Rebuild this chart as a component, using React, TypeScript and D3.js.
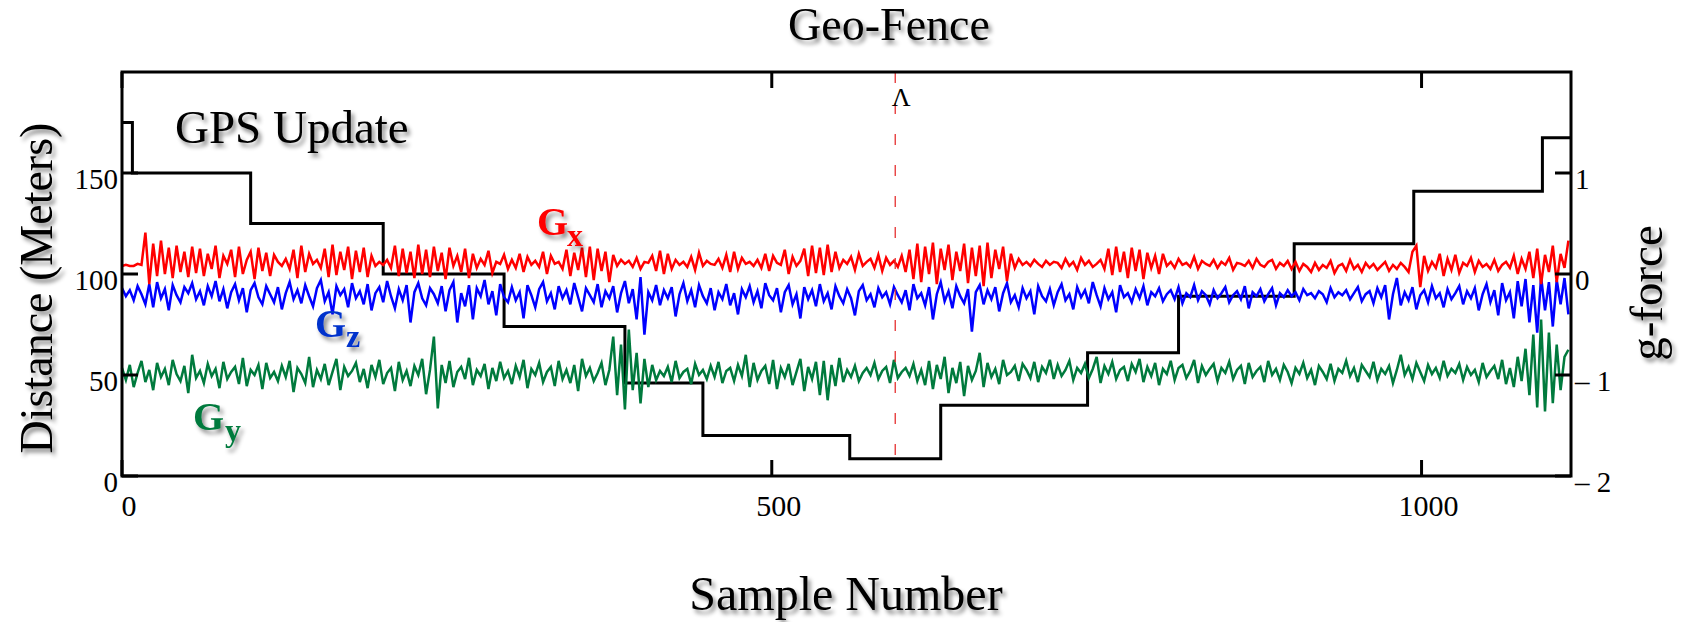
import * as d3 from "d3";

const SAMPLE_STEP = 3;
const sampleMax = 1115;
const geoFenceSample = 595;

// GPS distance (meters), step changes at these sample numbers
const gpsSamples = [0, 8, 99, 201, 294, 387, 447, 560, 630, 743, 813, 902, 994, 1093, 1115];
const gpsDistance = [175, 150, 125, 100, 74, 46, 20, 8.5, 35, 61, 89, 115, 141, 167.5, 167.5];

// g-force traces (right axis)
const gx = [
  .08, .09, .08, .08, .10, .09, .41, -.10, .30, -.02, .33, .00, .26, -.04, .28, .02, .22, -.03, .27, .01,
  .25, -.02, .20, .05, .28, -.04, .18, .10, .24, -.03, .27, .00, .14, .22, -.05, .26, .03, .21, -.02, .19,
  .12, .08, .15, .05, .24, -.04, .28, .02, .20, .10, .14, .06, .25, -.03, .29, -.01, .22, .04, .27, -.05,
  .23, .02, .26, -.03, .18, .08, .12, .09, .14, .06, .28, -.02, .25, .01, .22, -.04, .29, .00, .24, -.03,
  .27, .03, .21, -.05, .26, .08, .18, .02, .25, -.04, .20, .06, .15, .09, .23, .01, .12, .10, .19, .05,
  .14, .06, .20, .02, .17, .09, .13, .07, .22, .00, .18, .10, .12, .05, .24, -.02, .21, .04, .26, -.03,
  .27, -.06, .25, .03, .22, -.08, .19, .08, .14, .10, .13, .07, .16, .05, .12, .11, .18, .03, .23, .00,
  .20, .05, .14, .09, .12, .07, .17, .04, .21, .08, .13, .10, .09, .15, .06, .19, .02, .22, .05, .16,
  .10, .12, .08, .14, .06, .20, .03, .18, .11, .09, .24, .00, .17, .08, .13, .25, -.02, .28, .01, .26,
  -.01, .29, .02, .22, .06, .14, .10, .17, .04, .20, .08, .12, .15, .06, .19, .03, .16, .09, .13, .07,
  .18, .02, .24, -.05, .30, -.08, .27, .00, .31, -.10, .25, .04, .29, -.06, .22, .03, .30, -.09, .26, -.02,
  .28, -.12, .31, -.04, .24, .05, .27, -.07, .20, .06, .15, .09, .12, .08, .14, .10, .07, .13, .09, .12,
  .11, .06, .15, .08, .12, .04, .16, .09, .13, .07, .10, .14, .05, .25, -.01, .27, .02, .22, -.04, .26,
  .03, .24, -.05, .21, .06, .18, .00, .20, .08, .12, .06, .15, .09, .11, .07, .17, .05, .13, .10, .08,
  .14, .06, .12, .09, .16, .04, .11, .10, .08, .13, .06, .15, .09, .07, .12, .14, .05, .11, .08, .13,
  .05, .12, .03, .10, .07, .02, .11, .04, .09, .06, .13, .01, .08, .10, .03, .14, .05, .09, .02, .11,
  .06, .10, .04, .08, .12, .03, .09, .05, .11, .07, .02, .22, .28, -.13, .18, .03, .12, .06, .20, -.02,
  .15, .04, .19, .01, .11, .08, .16, .02, .13, .07, .10, .05, .14, .03, .09, .12, .06, .18, .00, .15,
  .05, .22, -.04, .25, -.10, .19, .02, .28, -.08, .20, .06, .33,
];

const gz = [
  -.14, -.22, -.16, -.26, -.12, -.20, -.30, -.10, -.33, -.08, -.24, -.15, -.36, -.11, -.21, -.28, -.13, -.19, -.09, -.25,
  -.17, -.31, -.12, -.22, -.07, -.27, -.15, -.34, -.18, -.10, -.26, -.14, -.38, -.16, -.09, -.23, -.30, -.12, -.20, -.28,
  -.13, -.35, -.19, -.08, -.25, -.16, -.29, -.11, -.22, -.32, -.14, -.06, -.27, -.18, -.40, -.12, -.21, -.15, -.33, -.09,
  -.24, -.17, -.30, -.10, -.36, -.19, -.13, -.28, -.07, -.22, -.34, -.15, -.26, -.11, -.48, -.18, -.09, -.24, -.31, -.14,
  -.20, -.29, -.12, -.37, -.16, -.08, -.48, -.19, -.32, -.11, -.45, -.14, -.22, -.06, -.30, -.17, -.41, -.10, -.23, -.28,
  -.13, -.26, -.18, -.44, -.11, -.21, -.33, -.15, -.08, -.27, -.19, -.35, -.12, -.24, -.16, -.30, -.09, -.23, -.37, -.14,
  -.21, -.28, -.10, -.33, -.17, -.24, -.12, -.38, -.19, -.07, -.29, -.15, -.45, -.03, -.60, -.18, -.26, -.11, -.31, -.16,
  -.24, -.13, -.42, -.20, -.09, -.27, -.16, -.33, -.11, -.22, -.29, -.14, -.36, -.18, -.25, -.10, -.31, -.19, -.40, -.15,
  -.23, -.12, -.28, -.17, -.34, -.09, -.21, -.26, -.14, -.38, -.18, -.11, -.30, -.20, -.44, -.13, -.25, -.16, -.32, -.10,
  -.27, -.19, -.35, -.12, -.22, -.29, -.15, -.24, -.41, -.17, -.11, -.26, -.20, -.33, -.14, -.23, -.18, -.30, -.13, -.21,
  -.28, -.16, -.36, -.10, -.24, -.19, -.31, -.13, -.45, -.20, -.08, -.27, -.17, -.34, -.12, -.22, -.29, -.15, -.57, -.18,
  -.11, -.30, -.16, -.25, -.13, -.37, -.19, -.09, -.28, -.21, -.33, -.14, -.24, -.17, -.40, -.12, -.22, -.27, -.15, -.31,
  -.18, -.10, -.26, -.20, -.35, -.13, -.23, -.16, -.29, -.08, -.21, -.32, -.14, -.25, -.18, -.38, -.11, -.23, -.19, -.28,
  -.15, -.24, -.12, -.31, -.18, -.22, -.14, -.27, -.20, -.16, -.25, -.13, -.29, -.19, -.23, -.11, -.26, -.17, -.21, -.30,
  -.16, -.24, -.19, -.13, -.28, -.21, -.17, -.25, -.12, -.34, -.18, -.22, -.15, -.27, -.20, -.14, -.31, -.19, -.23, -.16,
  -.22, -.18, -.26, -.15, -.21, -.19, -.24, -.17, -.20, -.28, -.14, -.23, -.18, -.21, -.16, -.25, -.19, -.13, -.27, -.20,
  -.17, -.29, -.14, -.23, -.11, -.45, -.20, -.04, -.31, -.18, -.26, -.13, -.35, -.21, -.16, -.28, -.12, -.24, -.19, -.33,
  -.15, -.25, -.19, -.12, -.30, -.17, -.24, -.14, -.36, -.20, -.10, -.28, -.16, -.41, -.09, -.26, -.18, -.44, -.07, -.32,
  -.05, -.48, -.11, -.58, -.03, -.36, -.08, -.52, -.06, -.30, -.04, -.40,
];

const gy = [
  -.93, -1.05, -.90, -1.12, -.98, -.86, -1.07, -.95, -1.15, -.88, -1.02, -.94, -1.10, -.85, -.99, -1.06, -.91, -1.18, -.80, -1.03,
  -.96, -1.08, -.89, -1.01, -.94, -1.13, -.87, -1.04, -.97, -.92, -1.09, -.83, -1.11, -.95, -1.00, -.90, -1.14, -.88, -1.03, -.97,
  -1.06, -.91, -1.02, -.86, -1.17, -.93, -.99, -1.08, -.82, -1.12, -.95, -1.04, -.89, -1.10, -.97, -.84, -1.15, -.92, -1.01, -.96,
  -.88, -1.07, -.94, -1.13, -.90, -1.02, -.85, -1.09, -.98, -.93, -1.16, -.87, -1.05, -.96, -1.11, -.91, -1.00, -.84, -1.19, -.95,
  -.62, -1.33, -.90, -1.08, -.86, -1.12, -.97, -.92, -1.04, -.83, -1.10, -.95, -1.01, -.89, -1.14, -.93, -1.06, -.87, -1.03, -.96,
  -1.09, -.91, -1.02, -.85, -1.13, -.94, -1.00, -.88, -1.07, -.97, -.92, -1.11, -.86, -1.04, -.95, -1.08, -.90, -1.16, -.84, -1.01,
  -.93, -1.06, -.98, -.88, -1.10, -.95, -.62, -1.20, -.70, -1.34, -.55, -1.15, -.78, -1.28, -.84, -1.12, -.90, -1.05, -.96, -1.01,
  -.92, -1.07, -.86, -1.03, -.97, -.94, -1.09, -.89, -1.00, -.95, -1.04, -.91, -1.02, -.87, -1.08, -.96, -.93, -1.06, -.90, -1.01,
  -.80, -1.12, -.88, -1.05, -.96, -.91, -1.09, -.85, -1.14, -.93, -1.02, -.89, -1.10, -.97, -.84, -1.16, -.92, -1.04, -.87, -1.20,
  -.86, -1.25, -.90, -1.11, -.83, -1.07, -.95, -1.02, -.91, -1.06, -.98, -.93, -1.00, -.88, -1.04, -.96, -.92, -1.08, -.85, -1.03,
  -.97, -.93, -1.01, -.89, -1.06, -.95, -1.10, -.86, -1.14, -.90, -1.04, -.82, -1.18, -.93, -1.08, -.87, -1.21, -.91, -1.05, -.96,
  -.78, -1.12, -.88, -1.02, -.94, -1.09, -.85, -1.00, -.97, -.91, -1.06, -.89, -.95, -1.03, -.87, -1.07, -.92, -.98, -.85, -1.04,
  -.90, -1.01, -.95, -.86, -1.05, -.93, -.98, -.89, -1.03, -.94, -.82, -1.08, -.91, -.99, -.87, -1.04, -.95, -.92, -1.06, -.89,
  -.97, -.84, -1.07, -.92, -1.01, -.88, -1.10, -.94, -.99, -.86, -1.05, -.93, -.90, -1.03, -.96, -.85, -1.08, -.91, -1.00, -.94,
  -.89, -1.06, -.93, -.98, -.87, -1.04, -.95, -.91, -1.09, -.88, -1.02, -.96, -.92, -1.07, -.86, -1.00, -.94, -1.05, -.90, -.97,
  -1.08, -.93, -.99, -.88, -1.03, -.95, -1.10, -.91, -.97, -1.04, -.89, -1.06, -.94, -.98, -.86, -1.01, -.93, -1.07, -.90, -.96,
  -1.02, -.87, -1.05, -.94, -.99, -.91, -1.08, -.95, -.80, -1.00, -.92, -1.04, -.88, -.97, -1.06, -.90, -.99, -.93, -1.03, -.86,
  -1.01, -.94, -.98, -.89, -1.05, -.92, -1.00, -.95, -1.07, -.88, -1.02, -.96, -.91, -1.04, -.85, -1.09, -.93, -1.12, -.82, -1.06,
  -.74, -1.20, -.60, -1.32, -.45, -1.36, -.58, -1.28, -.70, -1.15, -.82, -.75,
];

const sampleTicks = [0, 500, 1000];
const distanceTicks = [0, 50, 100, 150];
const gTicks = [-2, -1, 0, 1];
const gTickLabels = ["\u2013 2", "\u2013 1", "0", "1"];

const FONT = '"Liberation Serif", Tinos, "Times New Roman", Times, serif';

export default function App() {
  const width = 1681;
  const height = 622;
  const left = 122, right = 1571, top = 72, bottom = 476;
  const tickLen = 16;

  const x = d3.scaleLinear().domain([0, sampleMax]).range([left, right]);
  const yDist = d3.scaleLinear().domain([0, 200]).range([bottom, top]);
  const yG = d3.scaleLinear().domain([-2, 2]).range([bottom, top]);

  const gpsLine = d3
    .line<number>()
    .x((_, i) => x(gpsSamples[i]))
    .y((d) => yDist(d))
    .curve(d3.curveStepAfter);

  const gLine = d3
    .line<number>()
    .x((_, i) => x(i * SAMPLE_STEP))
    .y((d) => yG(d));

  const fx = x(geoFenceSample);

  return (
    <svg
      width={width}
      height={height}
      style={{ position: "absolute", left: 0, top: 0, background: "#fff", fontFamily: FONT }}
    >
      <defs>
        <filter id="shadow" x="-10%" y="-20%" width="130%" height="160%">
          <feDropShadow dx="3" dy="4" stdDeviation="2.2" floodColor="#000" floodOpacity="0.45" />
        </filter>
      </defs>

      {/* GPS distance steps */}
      <path d={gpsLine(gpsDistance) ?? ""} fill="none" stroke="#000" strokeWidth={3} />

      {/* accelerometer traces */}
      <path d={gLine(gy) ?? ""} fill="none" stroke="#007a3d" strokeWidth={2.5} />
      <path d={gLine(gz) ?? ""} fill="none" stroke="#0000ff" strokeWidth={2.5} />
      <path d={gLine(gx) ?? ""} fill="none" stroke="#ff0000" strokeWidth={2.5} />

      {/* geo-fence marker */}
      <line x1={fx} x2={fx} y1={top} y2={bottom} stroke="#e53030" strokeWidth={1.3} strokeDasharray="11 20" />
      <text x={fx + 6} y={106} fontSize={26} textAnchor="middle" fill="#000">Λ</text>

      {/* frame */}
      <rect x={left} y={top} width={right - left} height={bottom - top} fill="none" stroke="#000" strokeWidth={3} />

      {/* bottom / top ticks */}
      {sampleTicks.map((t) => (
        <g key={`s${t}`}>
          <line x1={x(t)} x2={x(t)} y1={bottom} y2={bottom - tickLen} stroke="#000" strokeWidth={3} />
          <line x1={x(t)} x2={x(t)} y1={top} y2={top + tickLen} stroke="#000" strokeWidth={3} />
          <text x={x(t) + 7} y={516} fontSize={30} textAnchor="middle" fill="#000">{t}</text>
        </g>
      ))}

      {/* left ticks */}
      {distanceTicks.map((t) => (
        <g key={`d${t}`}>
          <line x1={left} x2={left + tickLen} y1={yDist(t)} y2={yDist(t)} stroke="#000" strokeWidth={3} />
          <text x={118} y={yDist(t) + 16} fontSize={29} textAnchor="end" fill="#000">{t}</text>
        </g>
      ))}

      {/* right ticks */}
      {gTicks.map((t, i) => (
        <g key={`g${t}`}>
          <line x1={right} x2={right - tickLen} y1={yG(t)} y2={yG(t)} stroke="#000" strokeWidth={3} />
          <text x={1575} y={yG(t) + 16} fontSize={29} textAnchor="start" fill="#000">{gTickLabels[i]}</text>
        </g>
      ))}

      {/* titles */}
      <g filter="url(#shadow)" fill="#000">
        <text x={889} y={40} fontSize={46} textAnchor="middle">Geo-Fence</text>
        <text x={846} y={610} fontSize={48} textAnchor="middle">Sample Number</text>
        <text transform="translate(52,288) rotate(-90)" fontSize={46} textAnchor="middle">Distance (Meters)</text>
        <text transform="translate(1662,293) rotate(-90)" fontSize={47} textAnchor="middle">g-force</text>
        <text x={175} y={143} fontSize={47}>GPS Update</text>
      </g>

      {/* series labels */}
      <g filter="url(#shadow)" fontWeight="bold">
        <text x={537} y={235} fontSize={40} fill="#ff0000">G</text>
        <text x={567} y={246} fontSize={32} fill="#ff0000">x</text>
        <text x={315} y={337} fontSize={40} fill="#0033cc">G</text>
        <text x={346} y={347} fontSize={32} fill="#0033cc">z</text>
        <text x={193} y={430} fontSize={40} fill="#007a3d">G</text>
        <text x={225} y={441} fontSize={32} fill="#007a3d">y</text>
      </g>
    </svg>
  );
}
